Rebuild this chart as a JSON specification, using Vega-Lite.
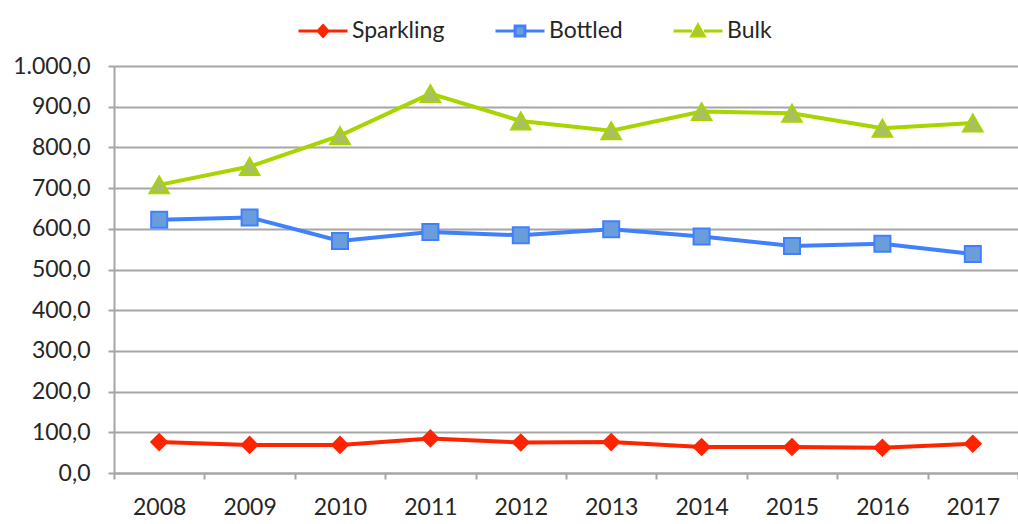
{
  "$schema": "https://vega.github.io/schema/vega-lite/v6.json",
  "width": 904,
  "height": 407,
  "padding": {"left": 114, "top": 66, "right": 0, "bottom": 51},
  "autosize": {"type": "none"},
  "background": "white",
  "config": {
    "locale": {"number": {"decimal": ",", "thousands": ".", "grouping": [3], "currency": ["", "€"]}},
    "view": {"stroke": null},
    "font": "Lato",
    "axis": {"labelFont": "Lato", "labelFontSize": 23, "labelColor": "#262626", "title": null},
    "legend": {
      "title": null, "orient": "none", "legendX": 183, "legendY": -61,
      "direction": "horizontal",
      "symbolSize": 2401, "symbolStrokeWidth": 3,
      "labelFont": "Lato", "labelFontSize": 23, "labelColor": "#262626",
      "labelOffset": 3, "columnPadding": 44
    }
  },
  "data": {
    "values": [
      {"year": "2008", "series": "Sparkling", "value": 76},
      {"year": "2009", "series": "Sparkling", "value": 69},
      {"year": "2010", "series": "Sparkling", "value": 69},
      {"year": "2011", "series": "Sparkling", "value": 85},
      {"year": "2012", "series": "Sparkling", "value": 75},
      {"year": "2013", "series": "Sparkling", "value": 76},
      {"year": "2014", "series": "Sparkling", "value": 64},
      {"year": "2015", "series": "Sparkling", "value": 64},
      {"year": "2016", "series": "Sparkling", "value": 62},
      {"year": "2017", "series": "Sparkling", "value": 72},
      {"year": "2008", "series": "Bottled", "value": 622},
      {"year": "2009", "series": "Bottled", "value": 628},
      {"year": "2010", "series": "Bottled", "value": 570},
      {"year": "2011", "series": "Bottled", "value": 592},
      {"year": "2012", "series": "Bottled", "value": 584},
      {"year": "2013", "series": "Bottled", "value": 599},
      {"year": "2014", "series": "Bottled", "value": 581},
      {"year": "2015", "series": "Bottled", "value": 558},
      {"year": "2016", "series": "Bottled", "value": 563},
      {"year": "2017", "series": "Bottled", "value": 538},
      {"year": "2008", "series": "Bulk", "value": 708},
      {"year": "2009", "series": "Bulk", "value": 753},
      {"year": "2010", "series": "Bulk", "value": 829},
      {"year": "2011", "series": "Bulk", "value": 932},
      {"year": "2012", "series": "Bulk", "value": 865},
      {"year": "2013", "series": "Bulk", "value": 841},
      {"year": "2014", "series": "Bulk", "value": 888},
      {"year": "2015", "series": "Bulk", "value": 884},
      {"year": "2016", "series": "Bulk", "value": 847},
      {"year": "2017", "series": "Bulk", "value": 860}
    ]
  },
  "encoding": {
    "x": {
      "field": "year", "type": "ordinal",
      "scale": {"type": "band", "paddingInner": 0, "paddingOuter": 0},
      "axis": {
        "labelAngle": 0, "tickBand": "extent", "grid": false,
        "domainColor": "#A6A6A6", "domainWidth": 2,
        "tickColor": "#A6A6A6", "tickWidth": 2, "tickSize": 6,
        "labelPadding": 17
      }
    },
    "y": {
      "field": "value", "type": "quantitative",
      "scale": {"domain": [0, 1000], "nice": false, "zero": true},
      "axis": {
        "values": [0, 100, 200, 300, 400, 500, 600, 700, 800, 900, 1000],
        "format": ",.1f",
        "grid": true, "gridColor": "#A6A6A6", "gridWidth": 2,
        "domainColor": "#A6A6A6", "domainWidth": 2,
        "tickColor": "#A6A6A6", "tickWidth": 2, "tickSize": 6,
        "labelPadding": 18
      }
    }
  },
  "layer": [
    {
      "mark": {"type": "line", "strokeWidth": 4},
      "encoding": {
        "stroke": {
          "field": "series", "type": "nominal",
          "scale": {"domain": ["Sparkling", "Bottled", "Bulk"], "range": ["#FF2400", "#4080FF", "#A8D400"]}
        }
      }
    },
    {
      "mark": {"type": "point", "filled": true, "strokeWidth": 2, "opacity": 1},
      "encoding": {
        "shape": {
          "condition": [
            {"test": "datum.series === 'Sparkling'", "value": "diamond"},
            {"test": "datum.series === 'Bottled'", "value": "square"}
          ],
          "value": "triangle-up"
        },
        "size": {
          "condition": [
            {"test": "datum.series === 'Sparkling'", "value": 250},
            {"test": "datum.series === 'Bottled'", "value": 256}
          ],
          "value": 380
        },
        "fill": {
          "condition": [
            {"test": "datum.series === 'Sparkling'", "value": "#FF2400"},
            {"test": "datum.series === 'Bottled'", "value": "#6A9DDC"}
          ],
          "value": "#A8C060"
        },
        "stroke": {
          "condition": [
            {"test": "datum.series === 'Sparkling'", "value": "#FF2400"},
            {"test": "datum.series === 'Bottled'", "value": "#4080FF"}
          ],
          "value": "#A8D400"
        }
      }
    },
    {
      "transform": [{"filter": "false"}],
      "mark": {"type": "point", "filled": true, "strokeWidth": 3, "opacity": 1},
      "encoding": {
        "shape": {
          "field": "series", "type": "nominal",
          "scale": {"domain": ["Sparkling", "Bottled", "Bulk"], "range": [
            "M-1,0H-0.2M0.2,0H1M0,-0.22L0.2,0L0,0.22L-0.2,0Z",
            "M-1,0H-0.2M0.2,0H1M-0.2,-0.2H0.2V0.2H-0.2Z",
            "M-1,0H-0.24M0.24,0H1M0,-0.24L0.25,0.2H-0.25Z"
          ]}
        },
        "fill": {
          "field": "series", "type": "nominal",
          "scale": {"domain": ["Sparkling", "Bottled", "Bulk"], "range": ["#FF2400", "#6A9DDC", "#A8C060"]}
        },
        "stroke": {
          "field": "series", "type": "nominal",
          "scale": {"domain": ["Sparkling", "Bottled", "Bulk"], "range": ["#FF2400", "#4080FF", "#A8D400"]}
        }
      }
    }
  ]
}
